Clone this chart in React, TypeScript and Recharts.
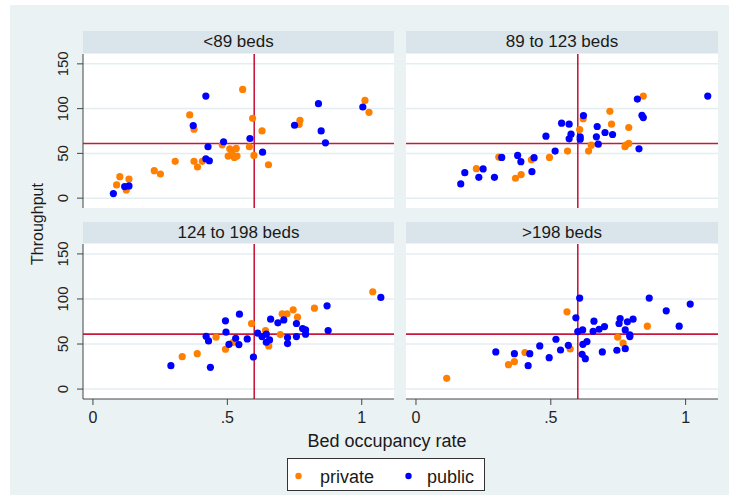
import { ScatterChart, Scatter, XAxis, YAxis, CartesianGrid, ReferenceLine } from 'recharts'

// panel titles (bed-size groups)
const PANEL_TITLES = ['<89 beds', '89 to 123 beds', '124 to 198 beds', '>198 beds']

// [bed occupancy rate, throughput]
const lt89Private = [
  [0.557, 121.4], [1.012, 109.2], [1.027, 95.9], [0.36, 92.9], [0.594, 89.2], [0.77, 86.9],
  [0.767, 82.5], [0.376, 77.0], [0.629, 75.1], [0.481, 59.6], [0.582, 57.4], [0.509, 55.1],
  [0.533, 55.5], [0.503, 47.0], [0.526, 45.5], [0.536, 47.0], [0.517, 50.7], [0.599, 47.7],
  [0.376, 41.1], [0.389, 34.8], [0.407, 41.1], [0.306, 41.1], [0.228, 30.7], [0.251, 27.0],
  [0.653, 37.3], [0.1, 24.0], [0.134, 21.4], [0.088, 14.8], [0.124, 9.2],
]
const lt89Public = [
  [0.42, 114.0], [0.839, 105.5], [1.004, 101.8], [0.373, 81.1], [0.75, 81.4], [0.849, 75.1],
  [0.865, 61.8], [0.486, 63.0], [0.584, 66.6], [0.428, 57.4], [0.631, 51.4], [0.42, 44.0],
  [0.433, 41.8], [0.118, 12.9], [0.134, 13.7], [0.076, 5.1],
]
const mid1Private = [
  [0.843, 114.0], [0.719, 97.0], [0.725, 82.6], [0.789, 78.9], [0.62, 88.8], [0.607, 76.7],
  [0.65, 59.2], [0.64, 52.6], [0.789, 61.1], [0.775, 57.4], [0.778, 59.2], [0.562, 52.6],
  [0.495, 45.5], [0.428, 42.9], [0.307, 45.9], [0.224, 32.9], [0.39, 26.3], [0.369, 22.2],
]
const mid1Public = [
  [1.082, 114.0], [0.821, 110.7], [0.838, 92.6], [0.843, 90.0], [0.621, 92.2], [0.54, 83.7],
  [0.568, 82.6], [0.672, 80.0], [0.701, 73.3], [0.729, 71.1], [0.669, 68.5], [0.575, 71.4],
  [0.568, 66.3], [0.609, 68.5], [0.609, 65.9], [0.482, 69.2], [0.676, 60.3], [0.827, 55.1],
  [0.516, 52.6], [0.318, 45.5], [0.377, 47.7], [0.389, 40.7], [0.438, 45.2], [0.249, 32.6],
  [0.181, 28.5], [0.233, 23.3], [0.291, 23.3], [0.43, 29.6], [0.166, 15.9],
]
const mid2Private = [
  [1.041, 108.0], [0.824, 89.8], [0.745, 88.0], [0.704, 83.5], [0.722, 83.5], [0.761, 79.8],
  [0.59, 72.8], [0.642, 65.0], [0.697, 60.5], [0.458, 57.5], [0.52, 51.6], [0.654, 47.9],
  [0.493, 44.2], [0.388, 39.3], [0.332, 36.0],
]
const mid2Public = [
  [1.071, 101.7], [0.871, 92.4], [0.545, 83.1], [0.661, 77.6], [0.688, 73.5], [0.71, 76.8],
  [0.757, 72.8], [0.493, 75.7], [0.78, 67.2], [0.791, 65.7], [0.791, 60.9], [0.875, 65.0],
  [0.495, 63.1], [0.613, 62.0], [0.629, 58.3], [0.645, 60.9], [0.657, 54.6], [0.645, 52.0],
  [0.724, 57.2], [0.724, 50.5], [0.757, 58.3], [0.421, 58.6], [0.43, 53.5], [0.531, 56.4],
  [0.574, 55.7], [0.543, 49.4], [0.506, 49.7], [0.597, 35.6], [0.29, 26.0], [0.437, 24.1],
]
const gt198Private = [
  [0.56, 85.7], [0.858, 69.8], [0.748, 57.5], [0.768, 50.9], [0.572, 44.5], [0.404, 40.5],
  [0.365, 30.4], [0.343, 27.1], [0.114, 11.9],
]
const gt198Public = [
  [0.607, 101.0], [0.865, 101.0], [1.017, 94.3], [0.928, 86.9], [0.976, 69.8], [0.593, 79.1],
  [0.757, 78.3], [0.805, 77.6], [0.784, 74.6], [0.753, 72.8], [0.66, 75.4], [0.699, 69.4],
  [0.679, 66.4], [0.657, 64.2], [0.618, 65.7], [0.6, 63.8], [0.776, 65.7], [0.793, 60.1],
  [0.793, 58.3], [0.519, 55.3], [0.634, 52.7], [0.619, 49.7], [0.565, 48.6], [0.459, 47.9],
  [0.536, 43.4], [0.691, 41.2], [0.745, 43.1], [0.776, 44.9], [0.296, 41.2], [0.365, 39.3],
  [0.422, 39.3], [0.494, 34.9], [0.616, 38.6], [0.628, 33.8], [0.416, 26.0],
]

const PRIVATE = [lt89Private, mid1Private, mid2Private, gt198Private]
const PUBLIC = [lt89Public, mid1Public, mid2Public, gt198Public]

const X_TICKS = [0, 0.5, 1]
const Y_TICKS = [0, 50, 100, 150]
const X_REF = 0.6
const Y_REF = 61

const ORANGE = '#ff8000'
const BLUE = '#0000ff'
const RED = '#c8183c'
const BG = '#eaf2f3'
const STRIP = '#d9e5ea'
const FONT = '"Liberation Sans", Arial, sans-serif'

const toPts = (arr: number[][]) => arr.map(([x, y]) => ({ x, y }))

const dot = (color: string) => (p: any) => <circle cx={p.cx} cy={p.cy} r={3.6} fill={color} />

function YTick(props: any) {
  const { x, y, payload } = props
  const cx = x - 13
  return (
    <text
      transform={`translate(${cx},${y}) rotate(-90)`}
      textAnchor="middle"
      dominantBaseline="central"
      fontSize={15}
      fontFamily={FONT}
      fill="#222"
    >
      {payload.value}
    </text>
  )
}

const fmtX = (v: number) => (v === 0.5 ? '.5' : String(v))

function Panel({ idx }: { idx: number }) {
  const col = idx % 2
  const row = Math.floor(idx / 2)
  const showY = col === 0
  const showX = row === 1
  const plotLeft = col === 0 ? 83 : 406
  const plotW = col === 0 ? 311 : 312
  const plotTop = row === 0 ? 54 : 244
  const plotH = row === 0 ? 154 : 155
  const yW = 43
  const xH = 34
  const padTop = 14 // room for the rotated top tick label
  const left = showY ? plotLeft - yW : plotLeft
  const width = showY ? plotW + yW : plotW
  const height = (showX ? plotH + xH : plotH) + padTop
  const headTop = row === 0 ? 31 : 222
  return (
    <>
      <div
        style={{
          position: 'absolute', left: plotLeft, top: headTop, width: plotW, height: plotTop - headTop - 1,
          background: STRIP, display: 'flex', alignItems: 'center', justifyContent: 'center',
          fontFamily: FONT, fontSize: 17, color: '#1a1a1a',
        }}
      >
        {PANEL_TITLES[idx]}
      </div>
      <div style={{ position: 'absolute', left, top: plotTop - padTop }}>
        <ScatterChart width={width} height={height} margin={{ top: padTop, right: 0, bottom: 0, left: 0 }}>
          <CartesianGrid vertical={false} horizontalValues={Y_TICKS} stroke="#e4edf0" strokeWidth={1.5} fill="#ffffff" />
          <XAxis
            type="number" dataKey="x" domain={[-0.037, 1.12]} ticks={X_TICKS} allowDataOverflow
            hide={!showX} height={xH} tickFormatter={fmtX} tickSize={6} tickMargin={7}
            stroke="#444" tick={{ fill: '#222', fontSize: 16, fontFamily: FONT }}
          />
          <YAxis
            type="number" dataKey="y" domain={[-11, 161]} ticks={Y_TICKS} allowDataOverflow
            hide={!showY} width={yW} tickSize={6} stroke="#444" tick={<YTick />}
          />
          <ReferenceLine x={X_REF} stroke={RED} strokeWidth={1.6} />
          <ReferenceLine y={Y_REF} stroke={RED} strokeWidth={1.6} />
          <Scatter name="private" data={toPts(PRIVATE[idx])} shape={dot(ORANGE)} isAnimationActive={false} />
          <Scatter name="public" data={toPts(PUBLIC[idx])} shape={dot(BLUE)} isAnimationActive={false} />
        </ScatterChart>
      </div>
    </>
  )
}

export default function App() {
  return (
    <div style={{ position: 'absolute', left: 0, top: 0, width: 729, height: 498, background: '#fff' }}>
      <div style={{ position: 'absolute', left: 10, top: 5, width: 719, height: 490, background: BG }} />
      {[0, 1, 2, 3].map((i) => (
        <Panel key={i} idx={i} />
      ))}
      <svg width={729} height={498} style={{ position: 'absolute', left: 0, top: 0, pointerEvents: 'none' }}>
        <text
          transform="translate(37,224) rotate(-90)"
          textAnchor="middle"
          dominantBaseline="central"
          fontSize={16}
          fontFamily={FONT}
          fill="#1a1a1a"
        >
          Throughput
        </text>
        <text x={387} y={447} textAnchor="middle" fontSize={18} fontFamily={FONT} fill="#1a1a1a">
          Bed occupancy rate
        </text>
        <rect x={287.5} y={458.5} width={197} height={32} fill="#fff" stroke="#333" strokeWidth={1} />
        <circle cx={298.5} cy={476} r={3.2} fill={ORANGE} />
        <text x={320} y={483} fontSize={18} fontFamily={FONT} fill="#1a1a1a">private</text>
        <circle cx={408.5} cy={476} r={3.2} fill={BLUE} />
        <text x={427} y={483} fontSize={18} fontFamily={FONT} fill="#1a1a1a">public</text>
      </svg>
    </div>
  )
}
